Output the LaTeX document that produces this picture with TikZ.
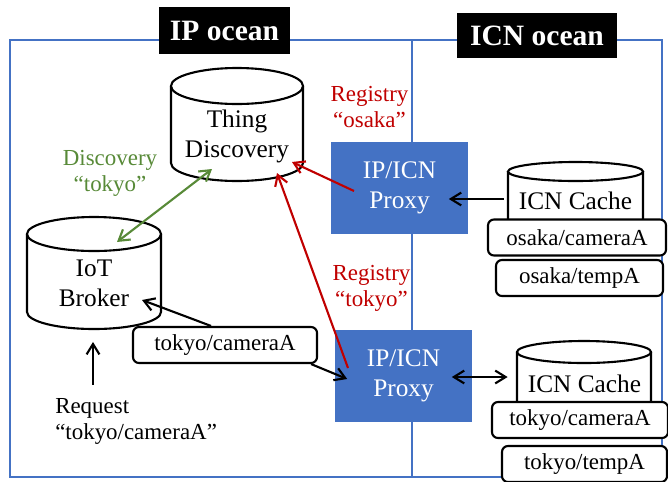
\documentclass[tikz,border=0pt]{standalone}
\usepackage{fontspec}
\setmainfont{Liberation Serif}
\usepackage{xcolor}
\definecolor{oceanblue}{RGB}{68,114,196}
\definecolor{regred}{RGB}{192,0,0}
\definecolor{discgreen}{RGB}{88,138,56}
\usepackage{tikz}
\usetikzlibrary{arrows.meta, positioning, calc}

\tikzset{
    frame/.style={draw=oceanblue, line width=0.8pt},
    ocean/.style={fill=black, text=white, font=\fontsize{21}{24}\selectfont\bfseries},
    proxy/.style={fill=oceanblue, text=white, align=center, minimum width=3.4cm, minimum height=2.32cm, font=\fontsize{18}{21}\selectfont},
    drumline/.style={draw, fill=white, line width=1.5pt},
    drumtext/.style={align=center, inner sep=0pt, font=\fontsize{18}{21}\selectfont},
    tag/.style={draw, fill=white, line width=1.5pt, rounded corners=0.15cm, minimum height=0.9cm, font=\fontsize{16.3}{18.5}\selectfont},
    note/.style={align=center, font=\fontsize{16.3}{18.5}\selectfont},
    arr/.style={-{Straight Barb[length=2.6mm,width=3.2mm]}, line width=1.5pt},
    biarr/.style={{Straight Barb[length=2.6mm,width=3.2mm]}-{Straight Barb[length=2.6mm,width=3.2mm]}, line width=1.5pt}
}

% cylinder: centre x, top y, bottom y, x radius, y radius (in px)
\newcommand{\drum}[5]{%
    \draw[drumline] ({#1-#4},#2) -- ({#1-#4},#3)
        arc[start angle=180, end angle=360, x radius=#4*0.025cm, y radius=#5*0.025cm]
        -- ({#1+#4},#2);
    \draw[drumline] (#1,#2) ellipse [x radius=#4*0.025cm, y radius=#5*0.025cm];
}

\begin{document}
\begin{tikzpicture}[x=0.025cm, y=-0.025cm]
    \useasboundingbox (0,0) rectangle (668,481);

    % Oceans
    \draw[frame] (10,40) rectangle (662,477);
    \draw[frame] (412,40) -- (412,477);
    \node[ocean, minimum width=3.275cm, minimum height=1.175cm] (ipsea) at (224.5,30.5) {IP ocean};
    \node[ocean, minimum width=4cm, minimum height=1.125cm] (icnsea) at (537,35.5) {ICN ocean};

    % Thing Discovery and IoT Broker
    \drum{237}{86}{163}{66}{18}
    \node[drumtext] (disc) at (237,136.5) {Thing\\Discovery};
    \drum{94}{234}{312}{67}{17}
    \node[drumtext] (broker) at (94,283.5) {IoT\\Broker};

    % Proxies
    \node[proxy, text depth=4pt] (proxya) at (399.5,188) {IP/ICN\\Proxy};
    \node[proxy, text depth=4pt] (proxyb) at (403.5,376) {IP/ICN\\Proxy};

    % ICN caches
    \drum{575.5}{171.5}{235}{67.5}{9.5}
    \node[drumtext] (cachea) at (575.5,201) {ICN Cache};
    \node[tag, minimum width=4.45cm] (osakacam) at (577,237.5) {osaka/cameraA};
    \node[tag, minimum width=4.175cm] (osakatemp) at (579.5,278) {osaka/tempA};

    \drum{584}{352}{415}{67}{11}
    \node[drumtext] (cacheb) at (584.5,383.5) {ICN Cache};
    \node[tag, minimum width=4.4cm] (tokyocam) at (580,420) {tokyo/cameraA};
    \node[tag, minimum width=4.125cm] (tokyotemp) at (584.5,464) {tokyo/tempA};

    \node[tag, minimum width=4.6cm] (content) at (225,345) {tokyo/cameraA};

    % Labels
    \node[note, text=regred] (regosaka) at (369.5,107.5) {Registry\\“osaka”};
    \node[note, text=regred] (regtokyo) at (371.5,288.5) {Registry\\“tokyo”};
    \node[note, text=discgreen] (discq) at (110,173.5) {Discovery\\“tokyo”};
    \node[note, align=left, anchor=west, inner sep=0pt] (req) at (55,421) {Request\\“tokyo/cameraA”};

    % Arrows
    \draw[biarr, discgreen] ($(broker)+(23,-41.5)$) -- ($(disc)+(-25,32.5)$);
    \draw[arr, regred] ($(proxya)+(-45.5,3)$) -- ($(disc)+(55,25.5)$);
    \draw[arr, regred] ($(proxyb)+(-55.5,-8)$) -- ($(disc)+(40,36.5)$);
    \draw[arr] ($(content.north)+(-14,0)$) -- ($(broker)+(48,16.5)$);
    \draw[arr] ($(content.south east)+(-7,0)$) -- ($(proxyb.west)+(12,3)$);
    \draw[arr] ($(cachea.west)+(-15,-2)$) -- ($(proxya.east)+(-19,11)$);
    \draw[biarr] ($(proxyb.east)+(-20,1)$) -- ($(cacheb.west)+(-20,-6.5)$);
    \draw[arr] ($(req.north west)+(38,-13)$) -- ($(broker.south)+(-1,35)$);
\end{tikzpicture}
\end{document}
